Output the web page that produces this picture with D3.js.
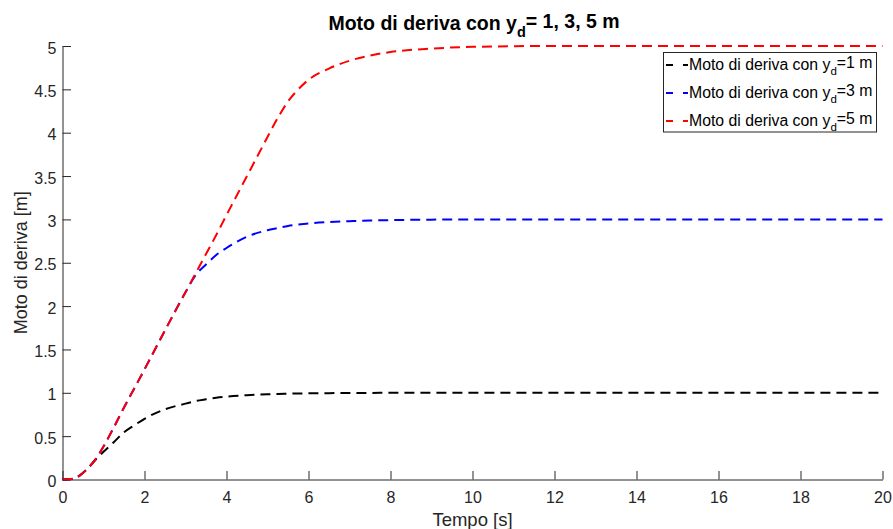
<!DOCTYPE html>
<html>
<head>
<meta charset="utf-8">
<script src="https://cdn.jsdelivr.net/npm/d3@7"></script>
<style>
  body { margin: 0; background: #fff; }
  svg { display: block; font-family: "Liberation Sans", Arial, Helvetica, sans-serif; }
  .tick text { fill: #262626; }
</style>
</head>
<body>
<svg id="chart"></svg>
<script>
var width = 893;
var height = 529;

// tempo [s] and drift motion [m] for yd = 1, 3, 5
var tempo = [0, 0.2, 0.4, 0.6, 0.8, 1, 1.25, 1.5, 1.75, 2, 2.5, 3, 3.25, 3.5, 3.75, 4, 4.5, 5, 5.25, 5.5, 5.75, 6, 6.5, 7, 7.5, 8, 9, 10, 12, 14, 16, 18, 20];
var motoYd1 = [0, 0.005, 0.04, 0.12, 0.225, 0.32, 0.43, 0.545, 0.625, 0.70, 0.81, 0.875, 0.905, 0.925, 0.943, 0.956, 0.972, 0.983, 0.987, 0.99, 0.992, 0.994, 0.996, 0.998, 0.999, 1, 1, 1, 1, 1, 1, 1, 1];
var motoYd3 = [0, 0.005, 0.04, 0.12, 0.23, 0.38, 0.6, 0.83, 1.05, 1.27, 1.72, 2.16, 2.36, 2.48, 2.59, 2.67, 2.80, 2.875, 2.90, 2.925, 2.94, 2.953, 2.97, 2.98, 2.988, 2.992, 2.997, 3, 3, 3, 3, 3, 3];
var motoYd5 = [0, 0.005, 0.04, 0.12, 0.23, 0.38, 0.6, 0.83, 1.05, 1.27, 1.72, 2.16, 2.38, 2.60, 2.82, 3.05, 3.50, 3.95, 4.17, 4.36, 4.50, 4.61, 4.74, 4.83, 4.89, 4.93, 4.97, 4.99, 5, 5, 5, 5, 5];

var seriesNames = ['1', '3', '5'];
var seriesColors = ['#000000', '#0000ff', '#ff0000'];
var seriesValues = [motoYd1, motoYd3, motoYd5];

var xTicks = [0, 2, 4, 6, 8, 10, 12, 14, 16, 18, 20];
var xTickLabels = ['0', '2', '4', '6', '8', '10', '12', '14', '16', '18', '20'];
var yTicks = [0, 0.5, 1, 1.5, 2, 2.5, 3, 3.5, 4, 4.5, 5];
var yTickLabels = ['0', '0.5', '1', '1.5', '2', '2.5', '3', '3.5', '4', '4.5', '5'];

var margin = { top: 46, right: 10.5, bottom: 49.5, left: 62.5 };

var svg = d3.select('#chart').attr('width', width).attr('height', height);

var x = d3.scaleLinear().domain([0, 20]).range([margin.left, width - margin.right]);
var y = d3.scaleLinear().domain([0, 5]).range([height - margin.bottom, margin.top]);

// axes, ticks inward like matlab
var xAxis = d3.axisBottom(x)
  .tickValues(xTicks)
  .tickFormat(function(d, i) { return xTickLabels[i]; })
  .tickSize(-8.5)
  .tickSizeOuter(0)
  .tickPadding(12);
var yAxis = d3.axisLeft(y)
  .tickValues(yTicks)
  .tickFormat(function(d, i) { return yTickLabels[i]; })
  .tickSize(-8.5)
  .tickSizeOuter(0)
  .tickPadding(6);

var gx = svg.append('g')
  .attr('transform', 'translate(0,' + (height - margin.bottom) + ')')
  .call(xAxis);
var gy = svg.append('g')
  .attr('transform', 'translate(' + margin.left + ',0)')
  .call(yAxis);

[gx, gy].forEach(function(g) {
  g.attr('font-family', null).attr('font-size', null);
  g.selectAll('.domain, .tick line').attr('stroke', '#262626').attr('stroke-width', 1);
  g.selectAll('.tick text').style('font-size', '16px');
});
gy.selectAll('.tick text').attr('dy', '7px');

// curves
var line = d3.line()
  .x(function(d) { return x(d.t); })
  .y(function(d) { return y(d.v); })
  .curve(d3.curveMonotoneX);

seriesValues.forEach(function(vals, i) {
  var pts = tempo.map(function(t, j) { return { t: t, v: vals[j] }; });
  svg.append('path')
    .datum(pts)
    .attr('d', line)
    .attr('fill', 'none')
    .attr('stroke', seriesColors[i])
    .attr('stroke-width', 2)
    .attr('stroke-dasharray', '10,6');
});

// title
var title = svg.append('text')
  .attr('x', 474)
  .attr('y', 30)
  .attr('text-anchor', 'middle')
  .style('font-size', '19.5px')
  .style('font-weight', 'bold')
  .attr('fill', '#000');
title.append('tspan').text('Moto di deriva con y');
title.append('tspan').attr('dy', '0.45em').style('font-size', '14.5px').text('d');
title.append('tspan').attr('dy', '-0.45em').text('= 1, 3, 5 m');

// axis labels
svg.append('text')
  .attr('x', (x(0) + x(20)) / 2)
  .attr('y', 526)
  .attr('text-anchor', 'middle')
  .style('font-size', '18.5px')
  .attr('fill', '#262626')
  .text('Tempo [s]');

svg.append('text')
  .attr('transform', 'translate(27,' + ((y(0) + y(5)) / 2) + ') rotate(-90)')
  .attr('text-anchor', 'middle')
  .style('font-size', '18px')
  .attr('fill', '#262626')
  .text('Moto di deriva [m]');

// legend
var legend = svg.append('g');
legend.append('rect')
  .attr('x', 663.5)
  .attr('y', 52.5)
  .attr('width', 213)
  .attr('height', 79.5)
  .attr('fill', '#fff')
  .attr('stroke', '#262626')
  .attr('stroke-width', 1);

seriesNames.forEach(function(name, i) {
  var rowY = 65 + i * 28;
  legend.append('line')
    .attr('x1', 666).attr('x2', 688)
    .attr('y1', rowY).attr('y2', rowY)
    .attr('stroke', seriesColors[i])
    .attr('stroke-width', 2)
    .attr('stroke-dasharray', '7,10,6');
  var t = legend.append('text')
    .attr('x', 689)
    .attr('y', rowY + 5)
    .style('font-size', '15.8px')
    .attr('fill', '#000');
  t.append('tspan').text('Moto di deriva con y');
  t.append('tspan').attr('dy', '0.45em').style('font-size', '11.5px').text('d');
  t.append('tspan').attr('dy', '-0.45em').text('=' + name + ' m');
});
</script>
</body>
</html>
